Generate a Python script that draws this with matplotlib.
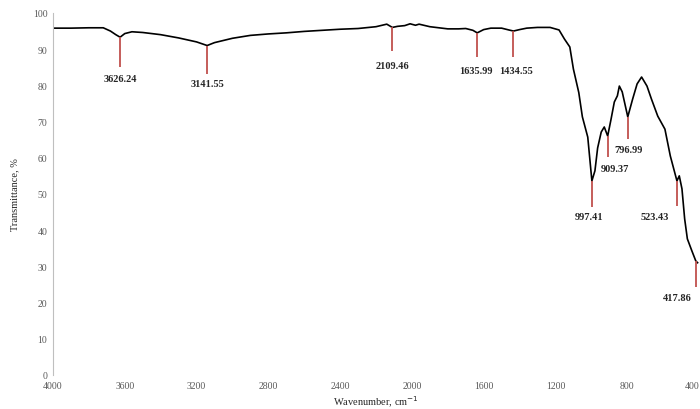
import matplotlib
matplotlib.use('Agg')
import matplotlib.pyplot as plt

# spectrum
wavenumber = [4000, 3900, 3800, 3720, 3680, 3650, 3626, 3600, 3560, 3500, 3400, 3300,
              3200, 3141, 3100, 3000, 2900, 2800, 2700, 2600, 2500, 2400, 2300, 2200,
              2140, 2109, 2080, 2040, 2010, 1980, 1960, 1900, 1800, 1740, 1700, 1660,
              1636, 1600, 1560, 1500, 1460, 1434, 1400, 1360, 1300, 1260, 1230, 1180,
              1150, 1120, 1100, 1070, 1050, 1020, 997, 980, 965, 945, 928, 909, 890,
              872, 855, 844, 828, 797, 770, 745, 720, 690, 665, 630, 590, 560, 523,
              510, 495, 480, 465, 440, 418, 408]
transmittance = [95.8, 95.8, 95.9, 95.9, 95.0, 94.0, 93.3, 94.3, 94.8, 94.6, 94.0, 93.1,
                 92.0, 91.0, 91.8, 93.0, 93.8, 94.2, 94.5, 94.9, 95.2, 95.5, 95.7, 96.2,
                 96.9, 96.0, 96.3, 96.5, 97.0, 96.6, 96.9, 96.2, 95.6, 95.6, 95.7, 95.2,
                 94.5, 95.4, 95.8, 95.8, 95.3, 95.0, 95.4, 95.8, 96.0, 96.0, 96.0, 95.3,
                 92.8, 90.6, 84.5, 78.0, 71.3, 65.7, 53.6, 56.4, 62.7, 67.1, 68.5, 66.0,
                 70.7, 75.4, 77.1, 79.8, 78.2, 71.3, 76.2, 80.4, 82.3, 79.8, 76.2, 71.5,
                 67.9, 60.5, 53.6, 55.0, 51.4, 43.1, 37.6, 34.3, 31.5, 31.0]

# marked peaks
peak_pos = [3626.24, 3141.55, 2109.46, 1635.99, 1434.55, 997.41, 909.37, 796.99, 523.43, 417.86]
peak_top = [93.3, 91.0, 96.0, 94.5, 95.0, 53.6, 66.0, 71.3, 53.6, 31.5]
peak_bottom = [85.1, 83.1, 89.5, 87.8, 87.8, 46.4, 60.2, 65.2, 46.7, 24.3]
label_x = [3626.24, 3141.55, 2109.46, 1645, 1420, 1010, 870, 790, 645, 520]
label_y = [81.8, 80.4, 85.6, 84.0, 84.0, 43.9, 56.9, 62.2, 43.9, 21.3]

plt.rcParams['font.family'] = ['Liberation Serif', 'DejaVu Serif']

fig = plt.figure(figsize=(7, 4.1), dpi=100)
ax = fig.add_axes([0.0757, 0.083, 0.9229, 0.883])

ax.plot(wavenumber, transmittance, color='black', lw=1.2)
ax.vlines(peak_pos, peak_bottom, peak_top, color='#c0504d', lw=1.3)
for i in range(len(peak_pos)):
    ax.text(label_x[i], label_y[i], '%.2f' % peak_pos[i], ha='center', va='center',
            fontsize=7.5, fontweight='bold', color='#262626')

ax.set_xlim(4000, 400)
ax.set_ylim(0, 100)
ax.set_xticks(range(4000, 399, -400))
ax.set_yticks(range(0, 101, 10))
ax.tick_params(length=0, labelsize=7, colors='#595959', pad=4)
# last label sits at the right edge of the figure
ax.get_xticklabels()[-1].set_horizontalalignment('right')

for s in ['top', 'right', 'bottom']:
    ax.spines[s].set_visible(False)
ax.spines['left'].set_color('#bfbfbf')

ax.set_xlabel(r'Wavenumber, cm$^{-1}$', fontsize=7.5, color='#262626', labelpad=3)
ax.set_ylabel('Transmittance, %', fontsize=7.5, color='#262626', labelpad=10)

fig.savefig('out.png', dpi=100)
